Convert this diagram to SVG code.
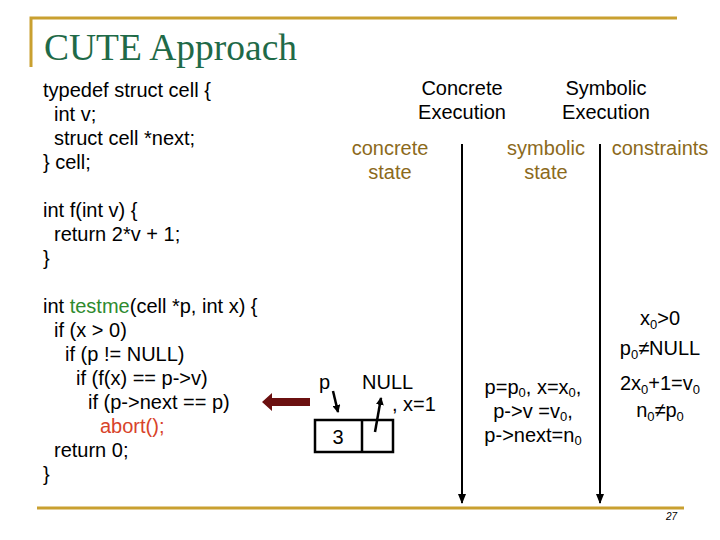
<svg xmlns="http://www.w3.org/2000/svg" width="720" height="540" viewBox="0 0 720 540">
<style>
.t{font-family:"Liberation Sans",Arial,sans-serif;font-size:20px;fill:#000}
.c{text-anchor:middle}
.g{fill:#8C6A1C}
.red{fill:#D8432A}
.sub{font-size:13px}
.rule{stroke:#C9A030;stroke-width:3;fill:none}
.ln{stroke:#000;stroke-width:2;fill:none}
</style>
<defs>
<marker id="ah" markerWidth="10" markerHeight="8" refX="9" refY="4" orient="auto" markerUnits="userSpaceOnUse">
<path d="M0,0 L10,4 L0,8 Z" fill="#000"/>
</marker>
<marker id="sh" markerWidth="8" markerHeight="8" refX="7" refY="4" orient="auto" markerUnits="userSpaceOnUse">
<path d="M0,0 L8,4 L0,8 Z" fill="#000"/>
</marker>
</defs>
<g id="frame">
<path class="rule" d="M31,67 V18 H677"/>
<path class="rule" d="M37,508 H684"/>
<text x="44" y="60" style="font-family:'Liberation Serif','Times New Roman',serif;font-size:37.5px;fill:#1F6A48">CUTE Approach</text>
<text x="666" y="520" style="font-family:'Liberation Sans',Arial,sans-serif;font-size:10px;font-style:italic;fill:#000">27</text>
</g>
<g id="code">
<text class="t" x="43" y="97">typedef struct cell {</text>
<text class="t" x="54" y="121">int v;</text>
<text class="t" x="54" y="145">struct cell *next;</text>
<text class="t" x="43" y="169">} cell;</text>
<text class="t" x="43" y="217">int f(int v) {</text>
<text class="t" x="54" y="241">return 2*v + 1;</text>
<text class="t" x="43" y="265">}</text>
<text class="t" x="43" y="313">int <tspan style="fill:#2E8A2E">testme</tspan>(cell *p, int x) {</text>
<text class="t" x="54" y="337">if (x &gt; 0)</text>
<text class="t" x="65" y="361">if (p != NULL)</text>
<text class="t" x="76" y="385">if (f(x) == p-&gt;v)</text>
<text class="t" x="88" y="409">if (p-&gt;next == p)</text>
<text class="t red" x="100" y="433">abort();</text>
<text class="t" x="54" y="457">return 0;</text>
<text class="t" x="43" y="481">}</text>
</g>
<g id="headers">
<text class="t c" x="462" y="95">Concrete</text>
<text class="t c" x="462" y="119">Execution</text>
<text class="t c" x="606" y="95">Symbolic</text>
<text class="t c" x="606" y="119">Execution</text>
<text class="t c g" x="390" y="155">concrete</text>
<text class="t c g" x="390" y="179">state</text>
<text class="t c g" x="546" y="155">symbolic</text>
<text class="t c g" x="546" y="179">state</text>
<text class="t c g" x="660" y="155">constraints</text>
</g>
<g id="connectors">
<line class="ln" x1="462" y1="144" x2="462" y2="503" marker-end="url(#ah)"/>
<line class="ln" x1="600" y1="144" x2="600" y2="503" marker-end="url(#ah)"/>
<path d="M310,398 H272 V393 L262,402 L272,411 V406 H310 Z" fill="#6B1010"/>
<line x1="333" y1="391" x2="338" y2="412" stroke="#000" stroke-width="2.5" marker-end="url(#sh)"/>
<line x1="375" y1="432" x2="381" y2="398" stroke="#000" stroke-width="2.5" marker-end="url(#sh)"/>
</g>
<g id="concrete-state">
<rect x="315" y="420" width="78" height="32" fill="none" stroke="#000" stroke-width="2.5"/>
<line x1="362" y1="420" x2="362" y2="452" stroke="#000" stroke-width="2.5"/>
<text class="t c" x="338" y="444">3</text>
<text class="t" x="319" y="389">p</text>
<text class="t" x="362" y="389">NULL</text>
<text class="t" x="392" y="411">, x=1</text>
</g>
<g id="symbolic-state">
<text class="t c"><tspan x="533" y="394">p=p</tspan><tspan class="sub" dy="3">0</tspan><tspan dy="-3">, x=x</tspan><tspan class="sub" dy="3">0</tspan><tspan dy="-3">,</tspan><tspan x="533" y="418">p-&gt;v =v</tspan><tspan class="sub" dy="3">0</tspan><tspan dy="-3">,</tspan><tspan x="533" y="442">p-&gt;next=n</tspan><tspan class="sub" dy="3">0</tspan></text>
</g>
<g id="constraints">
<text class="t c" x="660" y="325">x<tspan class="sub" dy="4">0</tspan><tspan dy="-4">&gt;0</tspan></text>
<text class="t c" x="660" y="355">p<tspan class="sub" dy="4">0</tspan><tspan dy="-4">≠NULL</tspan></text>
<text class="t c" x="660" y="390">2x<tspan class="sub" dy="4">0</tspan><tspan dy="-4">+1=v</tspan><tspan class="sub" dy="4">0</tspan></text>
<text class="t c" x="660" y="417">n<tspan class="sub" dy="4">0</tspan><tspan dy="-4">≠p</tspan><tspan class="sub" dy="4">0</tspan></text>
</g>
</svg>
